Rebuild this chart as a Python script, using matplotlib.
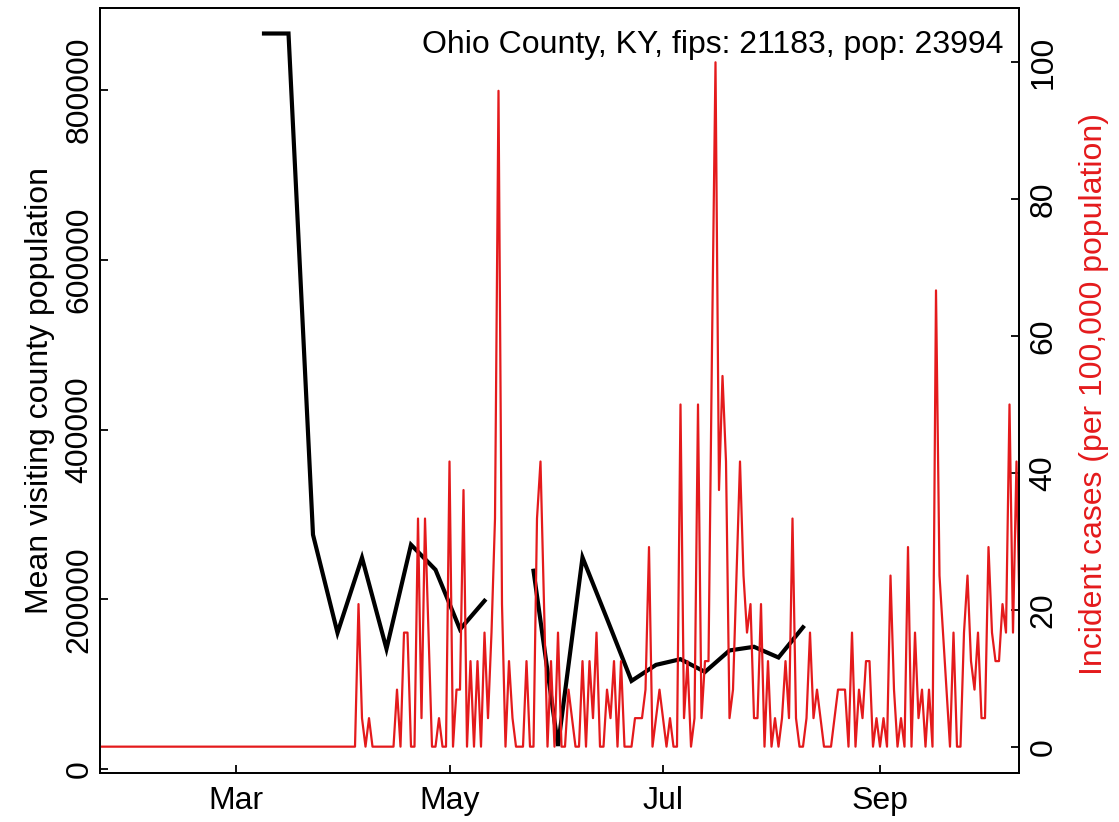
import numpy as np
import matplotlib
matplotlib.use("Agg")
import matplotlib.pyplot as plt
import matplotlib.dates as mdates

plt.rcParams['font.family'] = ['Liberation Sans', 'DejaVu Sans']

# ---------------- data ----------------
county_label = "Ohio County, KY, fips: 21183, pop: 23994"
population = 23994

# weekly mean visiting county population (NaN = missing week)
visit_dates = ["2020-03-09", "2020-03-16", "2020-03-23", "2020-03-30", "2020-04-06",
               "2020-04-13", "2020-04-20", "2020-04-27", "2020-05-04", "2020-05-11",
               "2020-05-18", "2020-05-25", "2020-06-01", "2020-06-08", "2020-06-15",
               "2020-06-22", "2020-06-29", "2020-07-06", "2020-07-13", "2020-07-20",
               "2020-07-27", "2020-08-03", "2020-08-10"]
visit_values = [866700, 866700, 276100, 160500, 249000,
                141600, 264300, 234800, 164600, 198200,
                np.nan, 233600, 27100, 249300, 177000,
                103800, 122700, 129400, 114400, 139700,
                144000, 131400, 167000]

# daily incident case counts, starting 2020-01-22
cases_start = "2020-01-22"
daily_cases = [0] * 74 + [
    5, 1, 0, 1, 0, 0, 0, 0, 0, 0,      # Apr 5 - Apr 14
    0, 2, 0, 4, 4, 0, 0, 8, 1, 8,      # Apr 15 - Apr 24
    4, 0, 0, 1, 0, 0, 10, 0, 2, 2,     # Apr 25 - May 4
    9, 0, 3, 0, 3, 0, 4, 1, 4, 8,      # May 5 - May 14
    23, 5, 0, 3, 1, 0, 0, 0, 3, 0,     # May 15 - May 24
    0, 8, 10, 5, 0, 3, 0, 4, 0, 0,     # May 25 - Jun 3
    2, 1, 0, 0, 3, 0, 3, 1, 4, 0,      # Jun 4 - Jun 13
    0, 2, 1, 3, 0, 3, 0, 0, 0, 1,      # Jun 14 - Jun 23
    1, 1, 2, 7, 0, 1, 2, 1, 0, 1,      # Jun 24 - Jul 3
    0, 0, 12, 1, 3, 0, 1, 12, 1, 3,    # Jul 4 - Jul 13
    3, 14, 24, 9, 13, 10, 1, 2, 6, 10, # Jul 14 - Jul 23
    6, 4, 5, 1, 1, 5, 0, 3, 0, 1,      # Jul 24 - Aug 2
    0, 1, 3, 1, 8, 1, 0, 0, 1, 4,      # Aug 3 - Aug 12
    1, 2, 1, 0, 0, 0, 1, 2, 2, 2,      # Aug 13 - Aug 22
    0, 4, 0, 2, 1, 3, 3, 0, 1, 0,      # Aug 23 - Sep 1
    1, 0, 6, 2, 0, 1, 0, 7, 0, 4,      # Sep 2 - Sep 11
    1, 2, 0, 2, 0, 16, 6, 4, 2, 0,     # Sep 12 - Sep 21
    4, 0, 0, 4, 6, 3, 2, 4, 1, 1,      # Sep 22 - Oct 1
    7, 4, 3, 3, 5, 4, 12, 4, 10, 4,    # Oct 2 - Oct 11
]

month_ticks = ["2020-03-01", "2020-05-01", "2020-07-01", "2020-09-01"]
month_labels = ["Mar", "May", "Jul", "Sep"]
left_ticks = [0, 200000, 400000, 600000, 800000]
right_ticks = [0, 20, 40, 60, 80, 100]

# ---------------- derived ----------------
vd = mdates.date2num(np.array(visit_dates, dtype="datetime64[D]"))
vv = np.array(visit_values, dtype=float)
cd0 = np.datetime64(cases_start)
cd = mdates.date2num(cd0 + np.arange(len(daily_cases)).astype("timedelta64[D]"))
rate = np.array(daily_cases, dtype=float) * 100000.0 / population

RED = "#E41A1C"
FS = 23

W, H = 1119, 822
fig = plt.figure(figsize=(W / 100, H / 100), dpi=100)
L, R, T, B = 99.5, 1019, 8, 773
ax = fig.add_axes([L / W, 1 - B / H, (R - L) / W, (B - T) / H])
ax2 = ax.twinx()

mar1 = mdates.date2num(np.datetime64("2020-03-01"))
ppd = 3.5
xlim = (mar1 - (236 - L) / ppd, mar1 + (R - 236) / ppd)

ax.plot(vd, vv, color="black", lw=3.0, solid_joinstyle="miter")
ax2.plot(cd, rate, color=RED, lw=1.6)

ax.set_xlim(*xlim)
ax.set_ylim(-4720, 896755)
ax2.set_ylim(-3.85, 107.96)

ax.set_xticks(mdates.date2num(np.array(month_ticks, dtype="datetime64[D]")))
ax.set_xticklabels(month_labels)
ax.set_yticks(left_ticks)
ax.set_yticklabels([str(v) for v in left_ticks], rotation=90, va="center")
ax2.set_yticks(right_ticks)
ax2.set_yticklabels([str(v) for v in right_ticks], rotation=90, va="center")

for a in (ax, ax2):
    for s in a.spines.values():
        s.set_linewidth(1.3)
        s.set_color("black")
ax.tick_params(axis="both", direction="in", length=5.8, width=1.3, labelsize=FS)
ax.tick_params(axis="x", pad=9)
ax.tick_params(axis="y", pad=3.5)
ax2.tick_params(axis="y", direction="in", length=5.8, width=1.3, labelsize=FS, pad=7)

fig.text(40 / W, 1 - 390 / H, "Mean visiting county population", rotation=90,
         ha="center", va="center", fontsize=FS)
fig.text(1094 / W, 1 - 394 / H, "Incident cases (per 100,000 population)", rotation=90,
         ha="center", va="center", fontsize=FS, color=RED)
fig.text(1003 / W, 1 - 45 / H, county_label, ha="right", va="center", fontsize=FS)

fig.savefig("out.png", dpi=100)
